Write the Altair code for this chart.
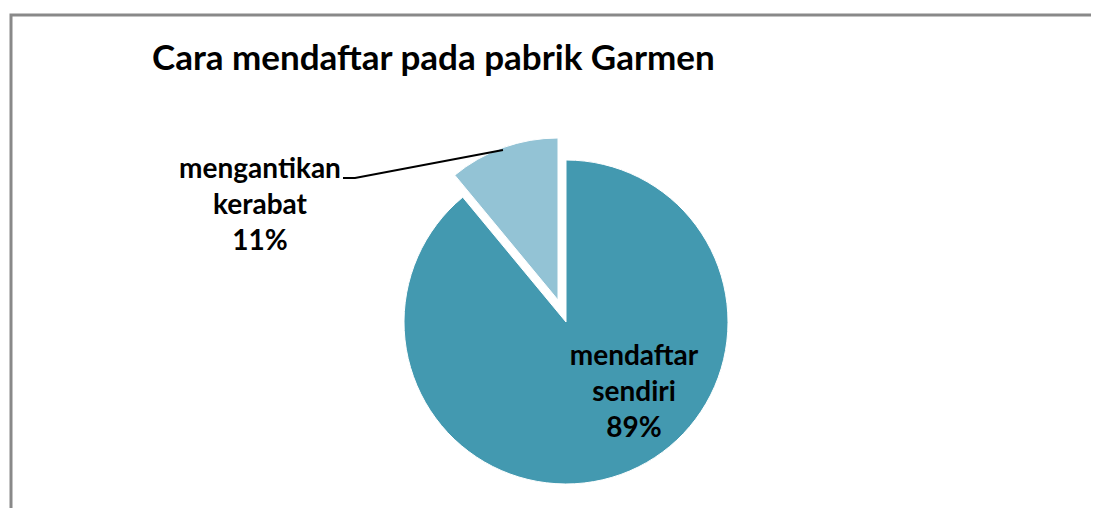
import altair as alt
import pandas as pd

categories = ["mendaftar sendiri", "mengantikan kerabat"]
values = [89, 11]
label_lines = [["mendaftar", "sendiri", "89%"], ["mengantikan", "kerabat", "11%"]]
colors = ["#4399B0", "#93C3D5"]
title_text = "Cara mendaftar pada pabrik Garmen"

df = pd.DataFrame({"category": categories, "value": values, "order": [0, 1]})

W, H = 1083, 500
CX, CY, R = 558, 314, 162
FONT = "Lato"

color_scale = alt.Scale(domain=categories, range=colors)

base = alt.Chart(df).encode(
    theta=alt.Theta("value:Q", stack=True),
    order=alt.Order("order:Q"),
    x=alt.value(CX),
    y=alt.value(CY),
)

main_slice = base.mark_arc(radius=R, strokeWidth=1).encode(
    color=alt.condition(
        alt.datum.category == categories[0],
        alt.Color("category:N", scale=color_scale, legend=None),
        alt.value("transparent"),
    ),
    stroke=alt.condition(alt.datum.category == categories[0], alt.value("white"), alt.value("transparent")),
)

exploded = base.mark_arc(radius=R, xOffset=-8, yOffset=-22, strokeWidth=1).encode(
    color=alt.condition(
        alt.datum.category == categories[1],
        alt.Color("category:N", scale=color_scale, legend=None),
        alt.value("transparent"),
    ),
    stroke=alt.condition(alt.datum.category == categories[1], alt.value("white"), alt.value("transparent")),
)

pix = alt.Scale(domain=[0, W], range=[0, W])
piy = alt.Scale(domain=[0, H], range=[0, H])

lab_df = pd.DataFrame({
    "label": ["\n".join(l) for l in label_lines],
    "px": [626, 252],
    "py": [349, 162],
})
labels = alt.Chart(lab_df).mark_text(
    font=FONT, fontSize=28, fontWeight="bold", color="black",
    lineBreak="\n", lineHeight=36, align="center", baseline="middle",
).encode(
    text="label:N",
    x=alt.X("px:Q", scale=pix, axis=None),
    y=alt.Y("py:Q", scale=piy, axis=None),
)

leader_df = pd.DataFrame({"x": [335, 347, 495], "y": [170, 170, 142], "o": [0, 1, 2]})
leader = alt.Chart(leader_df).mark_line(color="black", strokeWidth=2).encode(
    x=alt.X("x:Q", scale=pix, axis=None),
    y=alt.Y("y:Q", scale=piy, axis=None),
    order="o:Q",
)

frame = alt.Chart(pd.DataFrame({"a": [0]})).mark_rect(
    fill="transparent", stroke="#898989", strokeWidth=3
).encode(x=alt.value(3), y=alt.value(7), x2=alt.value(W + 20), y2=alt.value(H + 20))

title = alt.Chart(pd.DataFrame({"t": [title_text]})).mark_text(
    font=FONT, fontSize=35, fontWeight="bold", color="black", align="left", baseline="alphabetic"
).encode(text="t:N", x=alt.value(144), y=alt.value(62))

chart = alt.layer(frame, main_slice, exploded, leader, labels, title).properties(
    width=W, height=H, padding=0, autosize=alt.AutoSizeParams(type="none")
).configure_view(stroke=None)

chart.save("out.html", embed_options={"renderer": "svg", "actions": False})
